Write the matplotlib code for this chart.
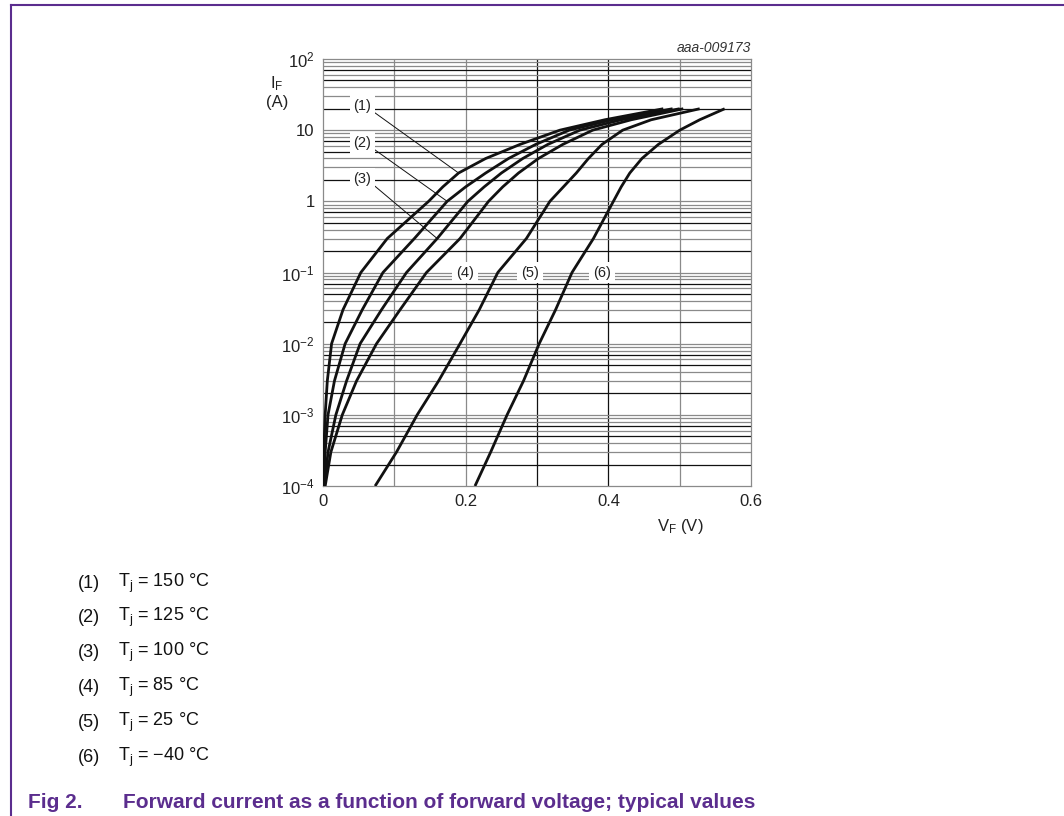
import matplotlib
matplotlib.use('Agg')
import matplotlib.pyplot as plt
import numpy as np

plt.rcParams['font.family'] = ['Liberation Sans', 'DejaVu Sans']
plt.rcParams['mathtext.fontset'] = 'custom'
plt.rcParams['mathtext.rm'] = 'Liberation Sans'
plt.rcParams['mathtext.it'] = 'Liberation Sans:italic'

# forward current (A) points, shared by all curves
i_pts = [1e-4, 3e-4, 1e-3, 3e-3, 1e-2, 3e-2, 0.1, 0.3, 1, 1.6, 2.5, 4, 6.3, 10, 14, 20]
# forward voltage (V) at those currents
v1 = [0.000, 0.001, 0.003, 0.006, 0.012, 0.028, 0.053, 0.090, 0.148, 0.168, 0.190, 0.228, 0.276, 0.332, 0.395, 0.477]
v2 = [0.001, 0.003, 0.007, 0.016, 0.031, 0.055, 0.084, 0.128, 0.174, 0.200, 0.228, 0.260, 0.298, 0.345, 0.405, 0.490]
v3 = [0.002, 0.007, 0.018, 0.033, 0.052, 0.082, 0.117, 0.160, 0.203, 0.226, 0.250, 0.280, 0.315, 0.360, 0.418, 0.500]
v4 = [0.003, 0.011, 0.027, 0.047, 0.075, 0.108, 0.145, 0.192, 0.232, 0.252, 0.274, 0.302, 0.336, 0.378, 0.432, 0.505]
v5 = [0.073, 0.103, 0.132, 0.162, 0.192, 0.219, 0.245, 0.285, 0.318, 0.337, 0.355, 0.372, 0.391, 0.420, 0.460, 0.528]
v6 = [0.213, 0.235, 0.258, 0.281, 0.303, 0.326, 0.349, 0.379, 0.407, 0.418, 0.430, 0.447, 0.470, 0.500, 0.528, 0.563]

curve_v = [v1, v2, v3, v4, v5, v6]
labels = ['(1)', '(2)', '(3)', '(4)', '(5)', '(6)']
temps = ['150', '125', '100', '85', '25', '\u221240']
# label positions (V, A) and leader end points on the curves
label_pos = [(0.055, 21.9), (0.055, 6.6), (0.055, 2.07), (0.199, 0.1), (0.290, 0.1), (0.391, 0.1)]
leader_end = [(0.190, 2.5), (0.174, 1.0), (0.160, 0.3), None, None, None]

xticks = [0, 0.2, 0.4, 0.6]
xticklabels = ['0', '0.2', '0.4', '0.6']
yticks = [1e-4, 1e-3, 1e-2, 1e-1, 1, 10, 100]
yticklabels = ['10$^{-4}$', '10$^{-3}$', '10$^{-2}$', '10$^{-1}$', '1', '10', '10$^{2}$']

purple = '#5b2d8e'

fig = plt.figure(figsize=(10.64, 8.16), dpi=100)
ax = fig.add_axes([0.3036, 0.4044, 0.4023, 0.5233])
ax.set_yscale('log')
ax.set_xlim(0, 0.6)
ax.set_ylim(1e-4, 100)

# grid
for x in np.arange(0.1, 0.6, 0.1):
    c = '#111111' if abs(x - 0.3) < 1e-6 or abs(x - 0.4) < 1e-6 else '#8a8a8a'
    ax.axvline(x, color=c, lw=0.9, zorder=1)
for dec in range(-4, 2):
    for m in range(1, 10):
        y = m * 10.0 ** dec
        if m == 1 and dec == -4:
            continue
        c = '#111111' if m in (2, 5, 7) else '#8a8a8a'
        ax.axhline(y, color=c, lw=0.9, zorder=1)

for v in curve_v:
    ax.plot(v, i_pts, color='#111111', lw=2.0, zorder=4,
            solid_joinstyle='round', solid_capstyle='butt')

for k in range(6):
    bb = dict(boxstyle='square,pad=0.25', fc='white', ec='none')
    if leader_end[k] is not None:
        ax.annotate(labels[k], xy=leader_end[k], xytext=label_pos[k],
                    ha='center', va='center', fontsize=10.5, color='#222222',
                    bbox=bb, zorder=3,
                    arrowprops=dict(arrowstyle='-', lw=0.7, color='#111111',
                                    shrinkA=0, shrinkB=0, relpos=(1.0, 0.2)))
    else:
        ax.text(label_pos[k][0], label_pos[k][1], labels[k], ha='center', va='center',
                fontsize=10.5, color='#222222', bbox=bb, zorder=3)

ax.set_xticks(xticks)
ax.set_xticklabels(xticklabels)
ax.set_yticks(yticks)
ax.set_yticklabels(yticklabels)
ax.yaxis.set_minor_locator(matplotlib.ticker.NullLocator())
ax.tick_params(length=0, labelsize=12, colors='#222222', pad=6)
for s in ax.spines.values():
    s.set_color('#8a8a8a')
    s.set_linewidth(0.9)

fig.text(270 / 1064, 1 - 84 / 816, 'I$_\\mathregular{F}$', fontsize=12, ha='left', va='center', color='#222222')
fig.text(266 / 1064, 1 - 103 / 816, '(A)', fontsize=12, ha='left', va='center', color='#222222')
fig.text(751 / 1064, 1 - 48 / 816, 'aaa-009173', fontsize=10, style='italic', ha='right',
         va='center', color='#333333')
fig.text(680 / 1064, 1 - 526 / 816, 'V$_\\mathregular{F}$ (V)', fontsize=12, ha='center',
         va='center', color='#222222')

# legend rows
for k in range(6):
    y = 1 - (583 + 34.8 * k) / 816
    fig.text(78 / 1064, y, labels[k], fontsize=13, ha='left', va='center', color='#111111')
    fig.text(118 / 1064, y, 'T$_\\mathregular{j}$ = ' + temps[k] + ' \u00b0C', fontsize=13,
             ha='left', va='center', color='#111111')

fig.text(28 / 1064, 1 - 803 / 816, 'Fig 2.', fontsize=15, fontweight='bold', color=purple,
         ha='left', va='center')
fig.text(123 / 1064, 1 - 803 / 816, 'Forward current as a function of forward voltage; typical values',
         fontsize=15, fontweight='bold', color=purple, ha='left', va='center')

# purple frame (top and left)
fig.add_artist(plt.Line2D([10.7 / 1064, 10.7 / 1064], [0, 1 - 5 / 816], color=purple, lw=1.5))
fig.add_artist(plt.Line2D([10.7 / 1064, 1], [1 - 5 / 816, 1 - 5 / 816], color=purple, lw=1.5))

fig.savefig('out.png', dpi=100)
